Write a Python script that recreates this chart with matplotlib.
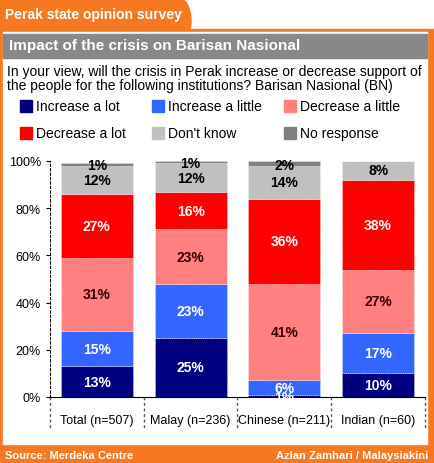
import matplotlib.pyplot as plt
import matplotlib.patches as mpatches
import numpy as np

plt.rcParams["font.family"] = ["Liberation Sans", "DejaVu Sans"]

groups = ["Total (n=507)", "Malay (n=236)", "Chinese (n=211)", "Indian (n=60)"]
series = ["Increase a lot", "Increase a little", "Decrease a little",
          "Decrease a lot", "Don't know", "No response"]
inc_lot = [13, 25, 1, 10]
inc_little = [15, 23, 6, 17]
dec_little = [31, 23, 41, 27]
dec_lot = [27, 16, 36, 38]
dont_know = [12, 12, 14, 8]
no_resp = [1, 1, 2, 0]
values = [inc_lot, inc_little, dec_little, dec_lot, dont_know, no_resp]
colors = ["#000080", "#3366ff", "#ff8080", "#ff0000", "#c0c0c0", "#808080"]
label_colors = ["white", "white", "#330000", "white", "black", "black"]

orange = "#f47920"
W, H = 435, 464
fig = plt.figure(figsize=(W / 100, H / 100), dpi=100)
fig.patch.set_facecolor("white")

def rect(x, y, w, h, color, **kw):
    # pixel coords from top-left
    fig.patches.append(mpatches.Rectangle((x / W, 1 - (y + h) / H), w / W, h / H,
                                          transform=fig.transFigure, color=color, zorder=0, **kw))

def text(x, y, s, **kw):
    fig.text(x / W, 1 - y / H, s, **kw)

# frame
rect(0, 30, W, H - 30, orange)
rect(0, 0, 180, 32, orange)
fig.patches.append(mpatches.Ellipse((180 / W, 1 - 22 / H), 22 / W, 44 / H,
                                    transform=fig.transFigure, color=orange, zorder=0))
rect(3, 33, 424, 412, "white")
rect(3, 35, 424, 24, "#888888")
text(5, 15, "Perak state opinion survey", color="white", fontsize=10, fontweight="bold", va="center")
text(9, 46, "Impact of the crisis on Barisan Nasional", color="white", fontsize=11, fontweight="bold", va="center")
text(7, 72, "In your view, will the crisis in Perak increase or decrease support of", fontsize=10, va="center")
text(7, 86, "the people for the following institutions? Barisan Nasional (BN)", fontsize=10, va="center")
text(5, 456, "Source: Merdeka Centre", color="white", fontsize=8, fontweight="bold", va="center")
text(428, 456, "Azlan Zamhari / Malaysiakini", color="white", fontsize=8, fontweight="bold", va="center", ha="right")

# legend
lx = [20, 152, 284]
ly = [107, 134]
for i, name in enumerate(series):
    x, y = lx[i % 3], ly[i // 3]
    rect(x, y - 6, 12, 12, colors[i])
    text(x + 16, y, name, fontsize=10, va="center")

ax = fig.add_axes([50 / W, (H - 398) / H, 375 / W, 236 / H])
ax.set_zorder(5)
ax.set_facecolor("white")
x = np.arange(len(groups))
bottom = np.zeros(len(groups))
for i, vals in enumerate(values):
    vals = np.array(vals)
    ax.bar(x, vals, 0.77, bottom=bottom, color=colors[i], edgecolor="white", linewidth=0.5, linestyle=":")
    for j, v in enumerate(vals):
        if v == 0:
            continue
        yy = bottom[j] + v / 2
        if i == 5:
            yy = bottom[j] + 0.3
        elif i == 0 and v < 3:
            yy = 0
        ax.text(x[j], yy, f"{v}%", ha="center", va="center", fontsize=10,
                fontweight="bold", color=label_colors[i])
    bottom += vals

ax.set_xlim(-0.5, 3.5)
ax.set_ylim(0, 100)
ax.set_yticks(range(0, 101, 20))
ax.set_yticklabels([f"{t}%" for t in range(0, 101, 20)], fontsize=9)
ax.set_xticks(x)
ax.set_xticklabels(groups, fontsize=9)
ax.tick_params(axis="x", length=0, pad=12)
ax.tick_params(axis="y", length=3)
for s in ["top", "right"]:
    ax.spines[s].set_visible(False)
ax.spines["left"].set_linestyle((0, (2, 2)))
for xs in [-0.5, 0.5, 1.5, 2.5, 3.5]:
    ax.plot([xs, xs], [0, -14], color="#555555", linestyle=(0, (2, 2)), lw=1, clip_on=False)

fig.savefig("out.png", dpi=100)
